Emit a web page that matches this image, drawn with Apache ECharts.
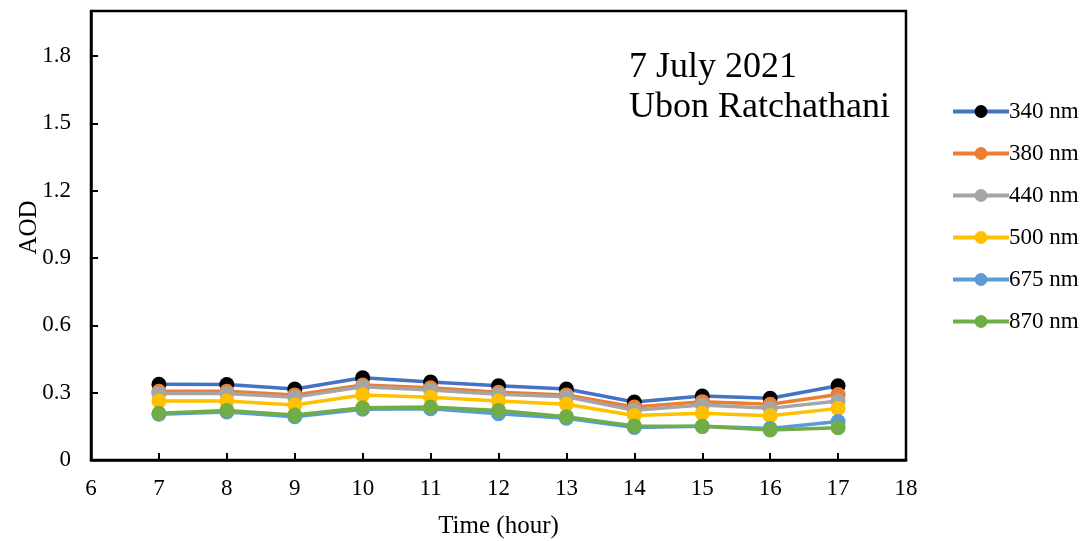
<!DOCTYPE html>
<html>
<head>
<meta charset="utf-8">
<script src="https://cdn.jsdelivr.net/npm/echarts@6/dist/echarts.min.js"></script>
<style>
  html, body { margin: 0; padding: 0; background: #fff; }
  #chart { width: 1088px; height: 541px; }
</style>
</head>
<body>
<div id="chart"></div>
<script>
// Hourly aerosol optical depth by wavelength
const hours = [7, 8, 9, 10, 11, 12, 13, 14, 15, 16, 17];
const seriesNames = ['340 nm', '380 nm', '440 nm', '500 nm', '675 nm', '870 nm'];
const aod340 = [0.337, 0.336, 0.316, 0.366, 0.347, 0.331, 0.316, 0.258, 0.285, 0.275, 0.331];
const aod380 = [0.306, 0.306, 0.290, 0.334, 0.322, 0.302, 0.290, 0.236, 0.260, 0.248, 0.292];
const aod440 = [0.296, 0.296, 0.280, 0.326, 0.312, 0.293, 0.282, 0.222, 0.245, 0.230, 0.263];
const aod500 = [0.263, 0.263, 0.245, 0.290, 0.280, 0.263, 0.248, 0.198, 0.208, 0.197, 0.230];
const aod675 = [0.204, 0.214, 0.193, 0.226, 0.228, 0.206, 0.186, 0.145, 0.150, 0.140, 0.171];
const aod870 = [0.208, 0.221, 0.200, 0.233, 0.236, 0.221, 0.193, 0.152, 0.150, 0.134, 0.144];
const lineColors = ['#4472C4', '#ED7D31', '#A5A5A5', '#FFC000', '#5B9BD5', '#70AD47'];
const markerColors = ['#000000', '#ED7D31', '#A5A5A5', '#FFC000', '#5B9BD5', '#70AD47'];

const allValues = [aod340, aod380, aod440, aod500, aod675, aod870];
const FONT = '"Liberation Serif", "Times New Roman", serif';

const series = seriesNames.map((name, i) => ({
  name: name,
  type: 'line',
  data: hours.map((h, j) => [h, allValues[i][j]]),
  symbol: 'circle',
  symbolSize: 15,
  lineStyle: { color: lineColors[i], width: 3.5 },
  itemStyle: { color: markerColors[i] },
  emphasis: { disabled: true },
  animation: false
}));

const chart = echarts.init(document.getElementById('chart'), null, { renderer: 'canvas' });
chart.setOption({
  backgroundColor: '#fff',
  animation: false,
  textStyle: { fontFamily: FONT },
  title: {
    text: '7 July 2021\nUbon Ratchathani',
    left: 624,
    top: 43,
    textStyle: { fontFamily: FONT, fontSize: 36, fontWeight: 'normal', color: '#000', lineHeight: 40 }
  },
  grid: {
    left: 91, right: 182, top: 11, bottom: 81,
    outerBoundsMode: 'none',
    containLabel: false,
    show: true, borderColor: '#000', borderWidth: 2.5, backgroundColor: 'transparent'
  },
  legend: {
    orient: 'vertical',
    left: 946,
    top: 95,
    itemWidth: 56,
    itemHeight: 16,
    itemGap: 19,
    data: seriesNames,
    lineStyle: { width: 4 },
    textStyle: { fontFamily: FONT, fontSize: 23, color: '#000', padding: [0, 0, 0, -5] }
  },
  xAxis: {
    type: 'value',
    min: 6, max: 18, interval: 1,
    name: 'Time (hour)',
    nameLocation: 'middle',
    nameGap: 54,
    nameTextStyle: { fontFamily: FONT, fontSize: 25, color: '#000' },
    axisLine: { show: true, lineStyle: { color: '#000', width: 2.5 } },
    axisTick: { show: true, inside: true, length: 7, lineStyle: { color: '#000', width: 2 } },
    axisLabel: { fontFamily: FONT, fontSize: 23, color: '#000', margin: 17 },
    splitLine: { show: false }
  },
  yAxis: {
    type: 'value',
    min: 0, max: 2.0, interval: 0.3,
    name: 'AOD',
    nameLocation: 'middle',
    nameGap: 49,
    nameMoveOverlap: false,
    nameTextStyle: { fontFamily: FONT, fontSize: 25, color: '#000', padding: [0, 0, 0, 16] },
    axisLine: { show: true, lineStyle: { color: '#000', width: 2.5 } },
    axisTick: { show: true, inside: true, length: 7, lineStyle: { color: '#000', width: 2 } },
    axisLabel: { fontFamily: FONT, fontSize: 23, color: '#000', margin: 20, showMaxLabel: false },
    splitLine: { show: false }
  },
  series: series
});
</script>
</body>
</html>
